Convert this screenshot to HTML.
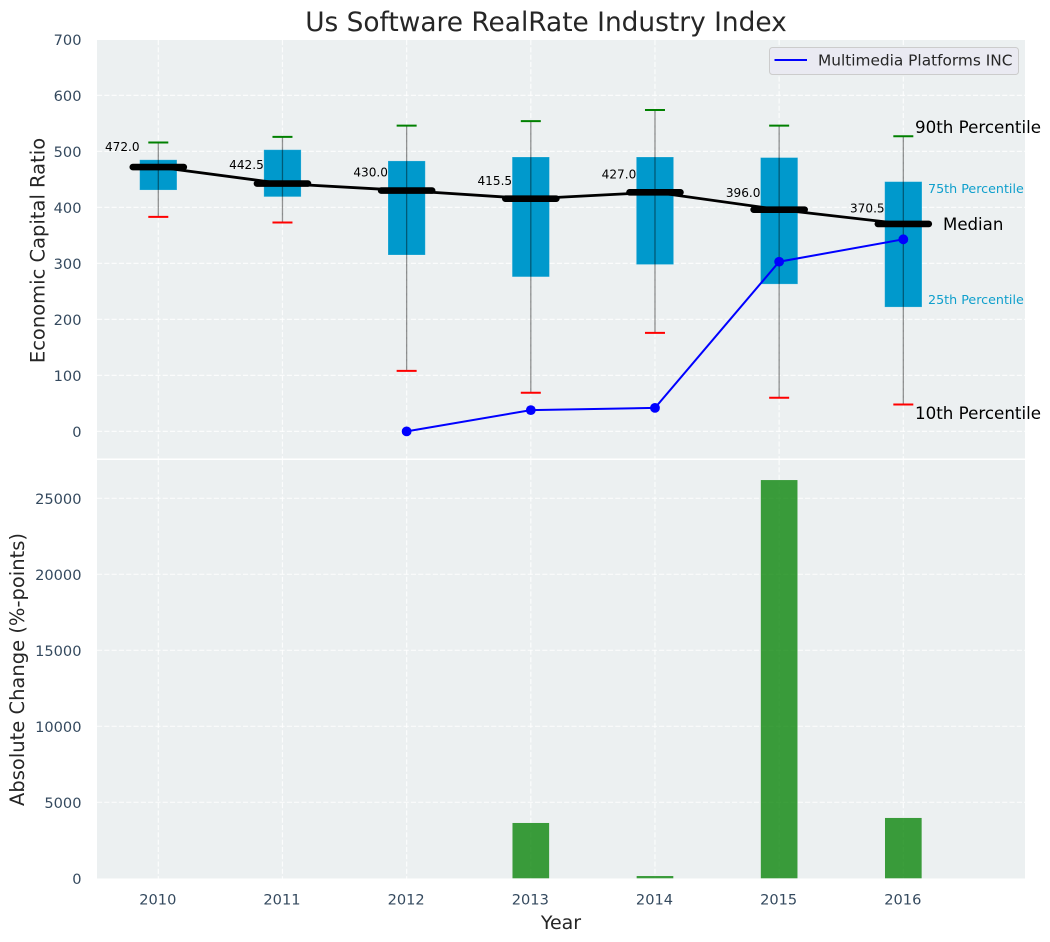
<!DOCTYPE html>
<html lang="en">
<head>
<meta charset="utf-8">
<title>Us Software RealRate Industry Index</title>
<style>
html,body{margin:0;padding:0;background:#fff;}
svg{display:block;font-family:"DejaVu Sans","Liberation Sans",sans-serif;}
</style>
</head>
<body>
<svg id="chart" xmlns="http://www.w3.org/2000/svg" width="1050" height="942" viewBox="0 0 1050 942">
  <rect x="0" y="0" width="1050" height="942" fill="#ffffff"/>
  <rect x="97" y="40" width="928" height="418.5" fill="#ecf0f1"/>
  <rect x="97" y="460" width="928" height="418.5" fill="#ecf0f1"/>
  <g id="grid"></g>
  <g id="bars"></g>
  <g id="boxes"></g>
  <g id="medians"></g>
  <g id="company"></g>
  <g id="ticks" fill="#34495e" font-size="14.6"></g>
  <text x="546" y="31" text-anchor="middle" font-size="26.4" fill="#262626">Us Software RealRate Industry Index</text>
  <text transform="translate(44.5,250.5) rotate(-90)" text-anchor="middle" font-size="19.5" fill="#262626">Economic Capital Ratio</text>
  <text transform="translate(24,669.5) rotate(-90)" text-anchor="middle" font-size="19.5" fill="#262626">Absolute Change (%-points)</text>
  <text x="561" y="929" text-anchor="middle" font-size="19" fill="#262626">Year</text>
  <g>
    <rect x="769.5" y="47.5" width="249" height="27" rx="3" fill="#eaeaf2" stroke="#cccccc" stroke-width="1"/>
    <line x1="774.5" y1="60" x2="807" y2="60" stroke="#0000ff" stroke-width="2"/>
    <text x="818" y="65.5" font-size="15.35" fill="#262626">Multimedia Platforms INC</text>
  </g>
  <g>
    <text x="915" y="133" font-size="16.7" fill="#000000">90th Percentile</text>
    <text x="928" y="193" font-size="12.7" fill="#0f9fcc">75th Percentile</text>
    <text x="943" y="230" font-size="16.6" fill="#000000">Median</text>
    <text x="928" y="304" font-size="12.7" fill="#0f9fcc">25th Percentile</text>
    <text x="915" y="419" font-size="16.7" fill="#000000">10th Percentile</text>
  </g>
</svg>
<script>
const years = [2010, 2011, 2012, 2013, 2014, 2015, 2016];
const p10Values = [383, 373, 108, 69, 176, 60, 48];
const p25Values = [431, 419, 315, 276, 298, 263, 222];
const medianValues = [472, 442.5, 430, 415.5, 427, 396, 370.5];
const p75Values = [485, 503, 483, 490, 490, 489, 446];
const p90Values = [516, 526, 546, 554, 574, 546, 527];
const companyYears = [2012, 2013, 2014, 2015, 2016];
const companyValues = [0, 38, 42, 303, 343];
const changeYears = [2013, 2014, 2015, 2016];
const changeValues = [3640, 150, 26200, 3970];
const topTicks = [0, 100, 200, 300, 400, 500, 600, 700];
const bottomTicks = [0, 5000, 10000, 15000, 20000, 25000];

const xScale = function (year) { return 158.3 + (year - 2010) * 124.17; };
const yTop = function (v) { return 431.4 - v * 0.56; };
const yBottom = function (v) { return 878.3 - v * 0.0152; };
const boxWidth = 0.3 * 124.17;
const capHalf = 10;
const medianHalf = 25.5;
const NS = 'http://www.w3.org/2000/svg';

function mk(tag, parent, props) {
  const node = document.createElementNS(NS, tag);
  Object.keys(props).forEach(function (k) { node.setAttribute(k, props[k]); });
  parent.appendChild(node);
  return node;
}
const gridG = document.getElementById('grid');
const barsG = document.getElementById('bars');
const boxesG = document.getElementById('boxes');
const mediansG = document.getElementById('medians');
const companyG = document.getElementById('company');
const ticksG = document.getElementById('ticks');
const gridStyle = {stroke: '#ffffff', 'stroke-width': 1.2, 'stroke-dasharray': '5.1 2.2', 'stroke-opacity': 0.8};

topTicks.forEach(function (t) {
  const y = yTop(t);
  if (y > 41) {
    const g = mk('line', gridG, Object.assign({x1: 97, x2: 1025, y1: y, y2: y}, gridStyle));
    
    
  }
  const label = mk('text', ticksG, {x: 81.5, y: y + 5.5, 'text-anchor': 'end'});
  label.textContent = String(t);
  
  
});
bottomTicks.forEach(function (t) {
  const y = yBottom(t);
  if (t > 0) {
    const g = mk('line', gridG, Object.assign({x1: 97, x2: 1025, y1: y, y2: y}, gridStyle));
    
    
  }
  const label = mk('text', ticksG, {x: 81.5, y: y + 5.9, 'text-anchor': 'end'});
  label.textContent = String(t);
  
  
});
years.forEach(function (yr, i) {
  const x = xScale(yr);
  const g1 = mk('line', gridG, Object.assign({x1: x, x2: x, y1: 40, y2: 458.5}, gridStyle));
  
  
  const g2 = mk('line', gridG, Object.assign({x1: x, x2: x, y1: 460, y2: 878.5}, gridStyle));
  
  
  const label = mk('text', ticksG, {x: x - 0.5, y: 904.5, 'text-anchor': 'middle'});
  label.textContent = String(yr);
  
  

  const box = mk('rect', boxesG, {x: x - boxWidth / 2, y: yTop(p75Values[i]), width: boxWidth, height: yTop(p25Values[i]) - yTop(p75Values[i]), fill: '#0099cc', stroke: '#ffffff', 'stroke-opacity': 0.25, 'stroke-width': 0.8});
  
  
  const whisker = mk('line', boxesG, {x1: x, x2: x, y1: yTop(p90Values[i]), y2: yTop(p10Values[i]), stroke: '#000000', 'stroke-opacity': 0.42, 'stroke-width': 1.3});
  
  
  const hi = mk('line', boxesG, {x1: x - capHalf, x2: x + capHalf, y1: yTop(p90Values[i]), y2: yTop(p90Values[i]), stroke: '#008000', 'stroke-width': 2});
  
  
  const lo = mk('line', boxesG, {x1: x - capHalf, x2: x + capHalf, y1: yTop(p10Values[i]), y2: yTop(p10Values[i]), stroke: '#ff0000', 'stroke-width': 2});
  
  
});

changeValues.forEach(function (v, i) {
  const x = xScale(changeYears[i]);
  const bar = mk('rect', barsG, {x: x - boxWidth / 2 + 0.3, y: yBottom(v), width: boxWidth - 0.6, height: yBottom(0) - yBottom(v), fill: '#008000', 'fill-opacity': 0.76});
  
  
});

const medianPath = mk('polyline', mediansG, {points: years.map(function (yr, i) { return xScale(yr) + ',' + yTop(medianValues[i]); }).join(' '), fill: 'none', stroke: '#000000', 'stroke-width': 2.8});


medianValues.forEach(function (v, i) {
  const x = xScale(years[i]);
  const seg = mk('line', mediansG, {x1: x - medianHalf, x2: x + medianHalf, y1: yTop(v), y2: yTop(v), stroke: '#000000', 'stroke-width': 6.6, 'stroke-linecap': 'round'});
  
  
  const label = mk('text', mediansG, {x: x - 18.7, y: yTop(v * 1.077) + 4.4, 'text-anchor': 'end', 'font-size': 12.1, fill: '#000000'});
  label.textContent = v.toFixed(1);
  
  
});

const companyPath = mk('polyline', companyG, {points: companyYears.map(function (yr, i) { return xScale(yr) + ',' + yTop(companyValues[i]); }).join(' '), fill: 'none', stroke: '#0000ff', 'stroke-width': 2});


companyValues.forEach(function (v, i) {
  const dot = mk('circle', companyG, {cx: xScale(companyYears[i]), cy: yTop(v), r: 4.9, fill: '#0000ff'});
  
  
});
</script>
</body>
</html>
